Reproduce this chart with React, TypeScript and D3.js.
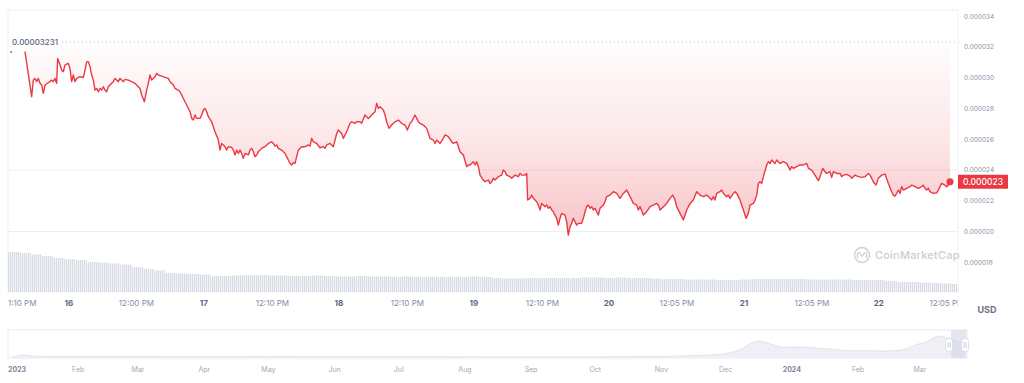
import React from 'react';
import * as d3 from 'd3';

// ---------- DATA ----------
const START = new Date(2024, 2, 15, 13, 10); // Mar 15 2024 1:10 PM
const END_HOURS = 168.9;

// hours after START
const priceHours = [
  0.4, 0.7, 1.5,
  3.02, 4.21, 4.50, 4.80, 5.10, 5.39, 5.69, 5.99, 6.28, 6.58, 7.17, 7.76, 8.06, 8.36, 8.65, 8.83, 9.25, 9.54, 9.84,
  10.13, 10.43, 10.73, 11.02, 11.32, 11.61, 11.91, 12.21, 12.80, 13.39, 13.69, 13.99, 14.28, 14.58, 14.88, 15.17,
  15.47, 15.76, 16.06, 16.36, 16.65, 16.95, 17.25, 17.54, 17.84, 18.43, 18.73, 19.02, 19.32, 19.62, 19.91, 20.21,
  20.51, 20.80, 21.39, 21.99, 22.58, 23.17, 23.47, 23.77, 24.24, 24.65, 24.95, 25.25, 25.54, 25.84, 26.14, 26.43,
  26.73, 27.32, 27.91, 28.51, 28.80, 29.40, 29.69, 30.28, 30.58, 30.88, 31.47, 31.77, 32.36, 32.66, 32.95, 33.25,
  33.54, 34.14, 34.43, 34.73, 35.03, 35.32, 35.62, 36.21, 36.80, 37.40, 37.69, 37.99, 38.28, 38.58, 38.88, 39.17,
  39.77, 40.06, 40.36, 40.66, 40.95, 41.25, 41.54, 41.84, 42.14, 42.73, 43.03, 43.32, 43.62, 43.92, 44.21, 44.51,
  45.10, 45.69, 46.29, 46.88, 47.17, 47.47, 47.77, 48.06, 48.66, 49.25, 49.54, 49.84, 50.14, 50.43, 50.73, 51.03,
  51.32, 51.62, 52.21, 52.81, 53.40, 53.70, 53.99, 54.29, 54.88, 55.47, 56.07, 56.36, 56.66, 57.25, 57.55, 57.84,
  58.44, 58.73, 59.32, 59.62, 60.21, 60.81, 61.10, 61.70, 61.99, 62.59, 62.88, 63.47, 63.77, 64.07, 64.66, 64.95,
  65.25, 65.55, 65.84, 66.14, 66.43, 66.73, 67.03, 67.32, 67.74, 68.21, 68.51, 68.81, 69.40, 69.70, 69.99, 70.59,
  71.00, 71.48, 71.77, 72.36, 72.66, 72.96, 73.25, 73.85, 74.44, 75.03, 75.63, 75.92, 76.22, 76.81, 77.40, 77.70,
  78.29, 78.89, 79.18, 79.78, 80.37, 80.96, 81.55, 81.85, 82.14, 82.74, 83.03, 83.33, 83.63, 83.92, 84.51, 84.81,
  85.40, 85.70, 85.99, 86.29, 86.59, 87.18, 87.77, 88.07, 88.37, 88.66, 89.25, 89.55, 90.14, 90.74, 91.03, 91.33,
  91.92, 92.22, 92.39, 92.81, 93.10, 93.40, 93.70, 93.99, 94.29, 94.59, 94.88, 95.48, 95.77, 96.07, 96.37, 96.66,
  96.96, 97.25, 97.55, 97.85, 98.14, 98.44, 99.03, 99.33, 99.62, 99.92, 100.22, 100.51, 100.81, 101.10, 101.40,
  101.99, 102.29, 102.59, 102.88, 103.18, 103.48, 103.77, 104.07, 104.36, 104.66, 104.96, 105.25, 105.85, 106.14,
  106.44, 107.03, 107.63, 108.22, 108.81, 109.41, 110.00, 110.30, 110.59, 111.19, 111.78, 112.07, 112.37, 112.96,
  113.55, 114.15, 114.74, 115.33, 115.63, 115.93, 116.52, 117.11, 117.70, 118.18, 118.59, 118.89, 119.48, 120.07,
  120.67, 121.26, 121.85, 122.44, 123.04, 123.63, 124.22, 124.82, 125.11, 125.41, 125.70, 126.00, 126.59, 126.89,
  127.19, 127.78, 128.07, 128.37, 128.96, 129.26, 129.56, 130.15, 130.74, 131.22, 131.63, 131.93, 132.52, 132.82,
  133.11, 133.41, 133.70, 134.00, 134.30, 134.89, 135.18, 135.48, 135.78, 136.07, 136.37, 136.67, 136.96, 137.26,
  137.85, 138.44, 138.74, 139.04, 139.33, 139.63, 140.22, 140.81, 141.41, 142.00, 142.30, 142.89, 143.48, 144.07,
  144.37, 144.85, 145.26, 145.56, 146.15, 146.45, 146.74, 147.33, 147.93, 148.22, 148.52, 149.11, 149.71, 150.00,
  150.59, 151.19, 151.78, 152.37, 152.96, 153.26, 153.85, 154.33, 154.74, 155.33, 155.93, 156.52, 157.11, 157.41,
  157.70, 158.00, 158.30, 158.59, 158.89, 159.19, 159.78, 160.37, 160.67, 161.26, 161.85, 162.44, 162.74, 163.04,
  163.33, 163.63, 163.93, 164.52, 165.11, 165.41, 166.00, 166.59, 166.89, 167.19, 167.48,
];

// price in micro-USD (x 0.000001 USD); null = gap in the data
const priceMicroUsd: (number | null)[] = [
  31.68, 31.68, null,
  31.70, 28.77, 29.85, 29.96, 29.75, 29.96, 29.64, 29.53, 28.99, 29.53, 29.68, 29.85, 29.75, 29.96, 29.64, 31.26, 30.83, 30.50, 30.40,
  30.83, 30.89, 30.94, 30.61, 29.75, 30.18, 29.75, 29.96, 30.07, 30.03, 30.50, 31.05, 31.05, 30.72, 30.18, 29.85,
  29.20, 29.31, 29.09, 29.31, 29.20, 29.42, 29.20, 29.09, 29.42, 29.64, 29.75, 29.96, 29.85, 29.75, 29.96, 29.85,
  29.75, 29.90, 29.85, 29.75, 29.64, 29.42, 29.31, 28.88, 28.44, 29.20, 29.64, 30.18, 29.85, 29.96, 30.07, 30.29,
  30.18, 30.11, 30.03, 29.96, 29.75, 29.53, 29.31, 29.20, 29.09, 28.88, 28.44, 28.23, 27.79, 27.36, 27.25, 27.58,
  27.36, 27.36, 27.58, 27.90, 28.01, 27.79, 27.47, 27.14, 26.49, 25.95, 25.30, 25.73, 25.63, 25.52, 25.30, 25.52,
  25.47, 25.30, 24.98, 25.30, 25.08, 25.30, 25.08, 24.76, 25.08, 24.98, 25.30, 25.41, 25.19, 24.87, 24.98, 25.19,
  25.41, 25.52, 25.73, 25.84, 25.73, 25.56, 25.63, 25.41, 25.30, 25.08, 24.87, 24.65, 24.43, 24.33, 24.48, 24.43,
  24.87, 25.30, 25.52, 25.52, 25.63, 25.56, 26.06, 25.84, 25.73, 25.45, 25.52, 25.41, 25.63, 25.73, 25.63, 25.52,
  26.38, 26.60, 26.38, 26.06, 26.49, 27.04, 27.14, 27.04, 27.14, 27.14, 27.04, 27.58, 27.47, 27.36, 27.58, 27.69,
  27.79, 28.34, 28.01, 28.12, 28.01, 27.90, 27.58, 27.14, 26.71, 26.93, 27.04, 27.14, 27.25, 27.14, 27.04, 26.93,
  26.60, 27.04, 27.14, 27.58, 27.36, 27.14, 27.04, 26.93, 26.71, 26.06, 25.95, 25.73, 25.95, 25.73, 26.06, 26.28,
  26.17, 25.84, 25.73, 25.84, 25.19, 24.98, 24.22, 24.33, 24.33, 24.54, 24.33, 24.54, 24.22, 23.67, 23.35, 23.24,
  23.35, 23.13, 23.24, 23.46, 23.35, 23.57, 23.67, 24.00, 23.89, 23.67, 23.57, 23.46, 23.67, 23.57, 23.78, 23.67,
  23.67, 23.78, 22.05, 22.16, 22.37, 22.16, 22.05, 21.94, 21.72, 21.40, 21.83, 21.62, 21.72, 21.51, 21.62, 21.40,
  21.29, 21.07, 20.86, 20.42, 20.86, 21.18, 21.07, 20.64, 19.77, 20.31, 20.53, 20.86, 20.64, 20.42, 20.53,
  20.53, 20.86, 21.29, 21.62, 21.72, 21.51, 21.62, 21.40, 21.51, 21.29, 21.07, 21.51, 21.72, 21.94,
  22.27, 22.37, 22.59, 22.48, 22.16, 22.48, 22.70, 22.48, 22.27, 21.83, 21.72, 21.40, 21.62, 21.07,
  21.29, 21.62, 21.72, 21.83, 21.72, 21.40, 21.62, 21.83, 22.16, 22.37, 22.05, 21.62, 21.18, 20.75,
  21.40, 21.83, 22.05, 22.59, 22.37, 22.27, 22.37, 22.16, 22.05, 22.27, 22.05, 22.48, 22.59, 22.70,
  22.48, 22.27, 22.37, 22.16, 22.48, 22.59, 22.48, 22.05, 21.40, 20.86, 21.18, 21.72, 21.83, 22.05,
  22.37, 23.13, 23.24, 23.13, 23.57, 24.33, 24.54, 24.43, 24.65, 24.54, 24.43, 24.65, 24.54, 24.43,
  24.54, 24.43, 24.22, 24.00, 24.22, 24.11, 24.22, 24.33, 24.33, 24.43, 24.11, 24.00, 23.67, 23.31,
  23.57, 24.11, 23.89, 23.78, 23.89, 23.52, 23.89, 23.78, 23.78, 23.57, 23.67, 23.72, 23.61, 23.46,
  23.67, 23.57, 23.52, 23.57, 23.78, 23.67, 23.24, 23.02, 23.46, 23.67, 23.74, 23.13, 22.59, 22.37,
  22.31, 22.48, 22.70, 22.48, 22.92, 22.70, 22.81, 22.92, 23.02, 22.92, 22.81, 22.92, 23.02, 22.81,
  22.70, 22.81, 22.59, 22.48, 22.52, 22.70, 23.13, 23.02, 22.92, 23.02, 23.24,
];

const refPriceMicro = 32.31;
const refPriceLabel = '0.00003231';
const lastPriceLabel = '0.000023';

const yTicks = [18, 20, 22, 24, 26, 28, 30, 32, 34];
const yTickLabels = ['0.000018', '0.000020', '0.000022', '0.000024', '0.000026', '0.000028', '0.000030', '0.000032', '0.000034'];
const yGridTicks = [20, 24];

// rolling volume, relative units, every 2 hours
const volumeHours = [
  0, 2, 4, 6, 8, 10, 12, 14, 16, 18, 20, 22, 24, 26, 28, 30, 32, 34, 36, 38, 40, 42, 44, 46, 48, 50, 52, 54, 56, 58,
  60, 62, 64, 66, 68, 70, 72, 74, 76, 78, 80, 82, 84, 86, 88, 90, 92, 94, 96, 98, 100, 102, 104, 106, 108, 110, 112,
  114, 116, 118, 120, 122, 124, 126, 128, 130, 132, 134, 136, 138, 140, 142, 144, 146, 148, 150, 152, 154, 156, 158,
  160, 162, 164, 166, 168,
];
const volumeValues = [
  100, 97.5, 93.8, 90, 85, 82.5, 80, 75, 73.8, 71.3, 68.8, 62.5, 57.5, 53.8, 47.5, 46.3, 45, 43.8, 40, 40,
  41.3, 42.5, 42.5, 41.3, 41.3, 40, 40, 41.3, 40, 38.8, 38.8, 40, 38.8, 38.8, 37.5, 38.8, 37.5, 37.5, 37.5, 37.5,
  37.5, 38.8, 37.5, 35, 33.8, 33.8, 35, 35, 35, 35, 35, 36.3, 36.3, 35, 36.3, 35, 35, 33.8, 32.5, 32.5,
  31.3, 31.3, 31.3, 30, 30, 31.3, 32.5, 32.5, 32.5, 32.5, 32.5, 31.3, 31.3, 31.3, 31.3, 30, 30, 30, 27.5, 25,
  25, 23.8, 22.5, 21.3, 20,
];

const xTickTimes = [
  '2024-03-15T13:10', '2024-03-16T00:00', '2024-03-16T12:00', '2024-03-17T00:00', '2024-03-17T12:10',
  '2024-03-18T00:00', '2024-03-18T12:10', '2024-03-19T00:00', '2024-03-19T12:10', '2024-03-20T00:00',
  '2024-03-20T12:05', '2024-03-21T00:00', '2024-03-21T12:05', '2024-03-22T00:00', '2024-03-22T12:05',
];
const xTickLabels = ['1:10 PM', '16', '12:00 PM', '17', '12:10 PM', '18', '12:10 PM', '19', '12:10 PM', '20', '12:05 PM', '21', '12:05 PM', '22', '12:05 PM'];

// overview navigator (price in micro-USD)
const navDates = [
  '2023-01-01', '2023-01-04', '2023-01-06', '2023-01-10', '2023-01-20', '2023-02-01', '2023-03-01', '2023-04-01',
  '2023-05-01', '2023-06-01', '2023-07-01', '2023-08-01', '2023-09-01', '2023-10-01', '2023-11-01', '2023-11-15',
  '2023-11-25', '2023-12-02', '2023-12-08', '2023-12-14', '2023-12-17', '2023-12-22', '2023-12-28', '2024-01-05',
  '2024-01-13', '2024-01-20', '2024-01-28', '2024-02-05', '2024-02-12', '2024-02-21', '2024-02-29', '2024-03-04',
  '2024-03-06', '2024-03-10', '2024-03-13', '2024-03-15', '2024-03-18', '2024-03-22',
];
const navValues = [
  0.3, 2.0, 3.5, 1.5, 0.8, 0.6, 0.5, 0.4, 0.5, 0.4, 0.35, 0.3, 0.25, 0.25, 0.6, 2.5, 3.5, 6.5, 13, 25, 27, 22,
  16.7, 17, 15, 13, 10.5, 11, 10, 11.7, 21.7, 26, 30, 35.5, 33, 31.7, 27, 23.2,
];
const navTickDates = [
  '2023-01-01', '2023-02-01', '2023-03-01', '2023-04-01', '2023-05-01', '2023-06-01', '2023-07-01', '2023-08-01',
  '2023-09-01', '2023-10-01', '2023-11-01', '2023-12-01', '2024-01-01', '2024-02-01', '2024-03-01',
];
const navTickLabels = ['2023', 'Feb', 'Mar', 'Apr', 'May', 'Jun', 'Jul', 'Aug', 'Sep', 'Oct', 'Nov', 'Dec', '2024', 'Feb', 'Mar'];

// ---------- CHART ----------
const FONT = "Inter, 'Noto Sans', sans-serif";
const RED = '#ea3943';

const parseD = (s: string) => {
  const [d, t] = s.split('T');
  const [y, m, dd] = d.split('-').map(Number);
  const [hh, mm] = (t || '00:00').split(':').map(Number);
  return new Date(y, m - 1, dd, hh, mm);
};
const hoursToDate = (h: number) => new Date(START.getTime() + h * 3600 * 1000);

export default function App() {
  const plot = { left: 8, right: 958, top: 10, bottom: 292 };
  const x = d3.scaleTime().domain([START, hoursToDate(END_HOURS)]).range([plot.left, plot.right]);
  const y = d3.scaleLinear().domain([18, 34]).range([262.3, 16.3]);
  const yVol = d3.scaleLinear().domain([0, 100]).range([292, 252]);

  const pts = priceHours.map((h, i) => ({ t: hoursToDate(h), v: priceMicroUsd[i] }));
  const line = d3.line<any>().defined((d) => d.v != null).x((d) => x(d.t)).y((d) => y(d.v)).curve(d3.curveLinear);
  const area = d3.area<any>().defined((d) => d.v != null).x((d) => x(d.t)).y0(y(refPriceMicro)).y1((d) => y(d.v));

  const last = pts[pts.length - 1];
  const lastX = x(last.t);
  const lastY = y(last.v as number);

  // navigator
  const navX = d3.scaleTime().domain([parseD('2023-01-01'), parseD('2024-03-23')]).range([12, 967]);
  const navY = d3.scaleLinear().domain([0, 46]).range([357, 330]);
  const navPts = navDates.map((d, i) => ({ t: parseD(d), v: navValues[i] }));
  const navArea = d3.area<any>().x((d) => navX(d.t)).y0(357.5).y1((d) => navY(d.v)).curve(d3.curveMonotoneX);
  const navLine = d3.line<any>().x((d) => navX(d.t)).y((d) => navY(d.v)).curve(d3.curveMonotoneX);
  const selX0 = navX(START);
  const selX1 = Math.min(967, navX(hoursToDate(END_HOURS)));

  return (
    <svg width={1024} height={383} style={{ position: 'fixed', left: 0, top: 0, background: '#fff' }} fontFamily={FONT}>
      <defs>
        <clipPath id="plotClip">
          <rect x={plot.left} y={plot.top} width={plot.right - plot.left} height={plot.bottom - plot.top} />
        </clipPath>
        <clipPath id="xLabelClip">
          <rect x={0} y={292} width={plot.right} height={30} />
        </clipPath>
        <linearGradient id="fillGrad" gradientUnits="userSpaceOnUse" x1={0} y1={y(refPriceMicro)} x2={0} y2={y(19.8)}>
          <stop offset="0" stopColor={RED} stopOpacity={0.01} />
          <stop offset="0.5" stopColor={RED} stopOpacity={0.12} />
          <stop offset="1" stopColor={RED} stopOpacity={0.3} />
        </linearGradient>
        <pattern id="volStripe" patternUnits="userSpaceOnUse" width={2} height={4}>
          <rect width={2} height={4} fill="#f0f2f6" />
          <rect width={1} height={4} fill="#d7dbe4" />
        </pattern>
      </defs>

      {/* plot frame */}
      <rect x={plot.left} y={plot.top} width={plot.right - plot.left} height={plot.bottom - plot.top} fill="none" stroke="#f1f2f4" />

      {/* grid */}
      {yGridTicks.map((t) => (
        <line key={t} x1={plot.left} x2={plot.right} y1={y(t)} y2={y(t)} stroke="#eceef2" />
      ))}

      {/* volume */}
      <g clipPath="url(#plotClip)">
        {volumeHours.map((h, i) => {
          const x0 = x(hoursToDate(h));
          const x1 = x(hoursToDate(h + 2));
          return <rect key={i} x={x0} y={yVol(volumeValues[i])} width={x1 - x0} height={yVol(0) - yVol(volumeValues[i])} fill="url(#volStripe)" />;
        })}
      </g>

      {/* watermark */}
      <g opacity={0.9}>
        <circle cx={862} cy={255} r={7.5} fill="none" stroke="#c9cdd5" strokeWidth={1.4} />
        <path d="M857.5,258.5 L857.5,254.5 Q857.5,251 860,253.5 L862,256.5 L864,253.5 Q866.5,251 866.5,254.5 L866.5,258.5" fill="none" stroke="#c9cdd5" strokeWidth={1.3} strokeLinejoin="round" />
        <text x={875} y={259} fontSize={11} fill="#c6cad3" fontWeight={500} letterSpacing={0.2}>CoinMarketCap</text>
      </g>

      {/* price area & line */}
      <g clipPath="url(#plotClip)">
        <path d={area(pts) || ''} fill="url(#fillGrad)" />
        <line x1={62} x2={plot.right} y1={y(refPriceMicro)} y2={y(refPriceMicro)} stroke="#bfc4cc" strokeDasharray="1 3" />
        <path d={line(pts) || ''} fill="none" stroke={RED} strokeWidth={1.4} strokeLinejoin="round" />
      </g>
      <text x={12} y={y(refPriceMicro)} dy="0.35em" fontSize={8} fontWeight={500} fill="#5d687d">{refPriceLabel}</text>

      {/* current price */}
      <circle cx={lastX} cy={lastY} r={3.5} fill={RED} />
      <rect x={958} y={lastY - 7} width={50} height={14} fill={RED} />
      <text x={983} y={lastY} dy="0.36em" textAnchor="middle" fontSize={8.5} fontWeight={500} fill="#fff">{lastPriceLabel}</text>

      {/* y axis */}
      {yTicks.map((t, i) =>
        Math.abs(y(t) - lastY) < 6 ? null : (
          <text key={t} x={964} y={y(t)} dy="0.35em" fontSize={6.5} fill="#8a93a6">{yTickLabels[i]}</text>
        )
      )}
      {/* 0.000024 sits just above current price box */}
      {yTicks.map((t, i) =>
        Math.abs(y(t) - lastY) < 6 ? (
          <text key={'o' + t} x={964} y={lastY - 9} fontSize={6.5} fill="#8a93a6">{yTickLabels[i]}</text>
        ) : null
      )}

      {/* x axis */}
      <g clipPath="url(#xLabelClip)">
        {xTickTimes.map((s, i) => {
          const isDay = /^\d+$/.test(xTickLabels[i]);
          const first = i === 0;
          return (
            <text
              key={i}
              x={first ? plot.left : x(parseD(s))}
              y={306}
              textAnchor={first ? 'start' : 'middle'}
              fontSize={8}
              fontWeight={isDay ? 700 : 400}
              fill={isDay ? '#58667e' : '#858ca2'}
            >
              {xTickLabels[i]}
            </text>
          );
        })}
      </g>
      <text x={987} y={313} textAnchor="middle" fontSize={9} fontWeight={700} fill="#6b7385">USD</text>

      {/* navigator */}
      <rect x={8} y={330} width={959} height={28} fill="#fff" stroke="#e8eaee" />
      <path d={navArea(navPts) || ''} fill="#eef0f5" />
      <path d={navLine(navPts) || ''} fill="none" stroke="#e1e4eb" strokeWidth={1} />
      <rect x={selX0} y={330} width={selX1 - selX0} height={28} fill="#cdd4e3" opacity={0.55} />
      {[selX0 - 2, selX1 - 1].map((hx, i) => (
        <g key={i}>
          <rect x={hx - 3.5} y={338.5} width={7} height={13} rx={3} fill="#fff" stroke="#d3d7df" strokeWidth={0.8} />
          <line x1={hx - 1} x2={hx - 1} y1={342} y2={348} stroke="#b9bec8" strokeWidth={0.7} />
          <line x1={hx + 1} x2={hx + 1} y1={342} y2={348} stroke="#b9bec8" strokeWidth={0.7} />
        </g>
      ))}
      {navTickDates.map((s, i) => {
        const isYear = /^\d{4}$/.test(navTickLabels[i]);
        const first = i === 0;
        return (
          <text
            key={i}
            x={first ? 8 : navX(parseD(s))}
            y={372}
            textAnchor={first ? 'start' : 'middle'}
            fontSize={7}
            fontWeight={isYear ? 700 : 400}
            fill={isYear ? '#7d8596' : '#a3a9b5'}
          >
            {navTickLabels[i]}
          </text>
        );
      })}
    </svg>
  );
}
